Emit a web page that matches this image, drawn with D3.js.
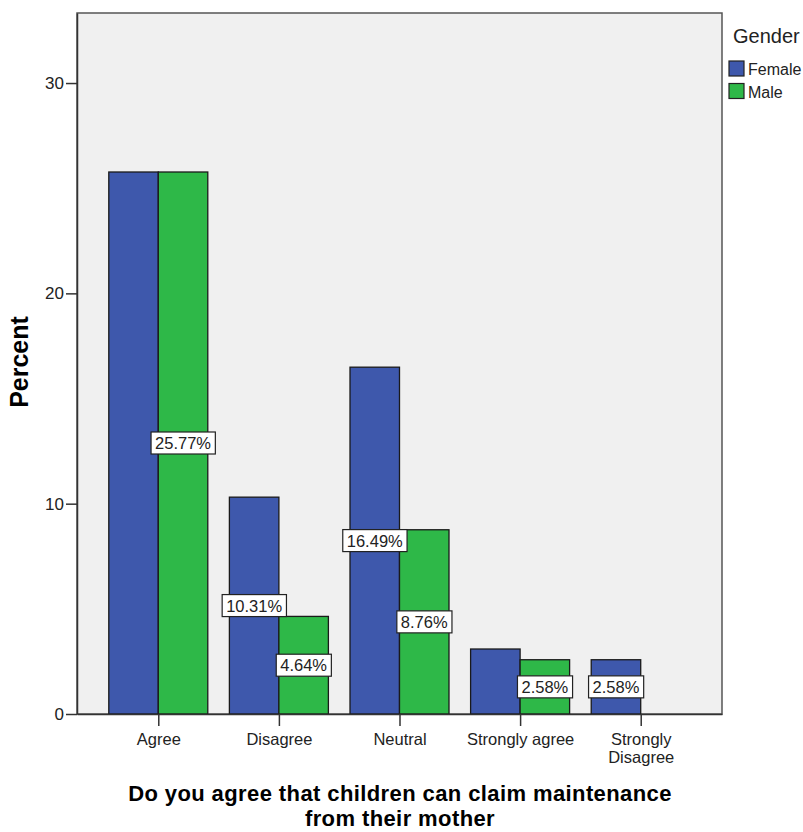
<!DOCTYPE html>
<html><head><meta charset="utf-8">
<script src="https://cdn.jsdelivr.net/npm/d3@7"></script>
<style>body{margin:0;background:#fff;} svg{display:block;font-family:"Liberation Sans",Arial,sans-serif;}</style>
</head><body><svg id="c" width="803" height="832"></svg>
<script>
const categories = ["Agree","Disagree","Neutral","Strongly agree","Strongly Disagree"];
const categoryLines = [["Agree"],["Disagree"],["Neutral"],["Strongly agree"],["Strongly","Disagree"]];
const series = ["Female","Male"];
const femaleValues = [25.77, 10.31, 16.49, 3.09, 2.58];
const maleValues = [25.77, 4.64, 8.76, 2.58, 0];
const femaleLabelShown = [false, true, true, false, true];
const maleLabelShown = [true, true, true, true, false];
const yTicks = [0, 10, 20, 30];
const colors = ["#3E58AC", "#2EB848"];

const svg = d3.select("#c");
const L = 77, T = 13, R = 722, B = 714;
const y = d3.scaleLinear().domain([0, 33.33]).range([B, T]);
const x = d3.scalePoint().domain(categories).range([L, R]).padding(0.674);
const barW = 49.5;
const xs = d3.scaleBand().domain(series).range([-barW, barW]);

svg.append("rect").attr("x", L).attr("y", T).attr("width", R - L).attr("height", B - T)
  .attr("fill", "#F0F0F0").attr("stroke", "#555").attr("stroke-width", 1.5);

const rows = [];
categories.forEach((c, i) => {
  rows.push({c, s: "Female", v: femaleValues[i], show: femaleLabelShown[i], k: 0});
  rows.push({c, s: "Male", v: maleValues[i], show: maleLabelShown[i], k: 1});
});

svg.append("g").selectAll("rect").data(rows.filter(d => d.v > 0)).join("rect")
  .attr("x", d => x(d.c) + xs(d.s))
  .attr("y", d => y(d.v))
  .attr("width", xs.bandwidth())
  .attr("height", d => y(0) - y(d.v))
  .attr("fill", d => colors[d.k])
  .attr("stroke", "#1a1a1a").attr("stroke-width", 1.3);

// Axes
const yAxis = svg.append("g").attr("transform", `translate(${L},0)`)
  .call(d3.axisLeft(y).tickValues(yTicks).tickSize(11).tickSizeOuter(0).tickPadding(2).tickFormat(d3.format("d")));
yAxis.select(".domain").attr("stroke", "#333").attr("stroke-width", 1.5);
yAxis.selectAll(".tick line").attr("stroke", "#333").attr("stroke-width", 1.5);
yAxis.selectAll(".tick text").attr("font-size", 17).attr("fill", "#222")
  .attr("font-family", "Liberation Sans, Arial, sans-serif");

const xAxis = svg.append("g").attr("transform", `translate(0,${B})`)
  .call(d3.axisBottom(x).tickSize(12).tickSizeOuter(0).tickFormat(""));
xAxis.select(".domain").attr("stroke", "#333").attr("stroke-width", 1.5);
xAxis.selectAll(".tick line").attr("stroke", "#333").attr("stroke-width", 1.5);
xAxis.selectAll(".tick").each(function(d, i) {
  const t = d3.select(this).append("text").attr("fill", "#222").attr("font-size", 16.5)
    .attr("text-anchor", "middle").attr("font-family", "Liberation Sans, Arial, sans-serif");
  categoryLines[i].forEach((ln, j) => t.append("tspan").attr("x", 0).attr("y", 31 + j * 18).text(ln));
});

// Value labels
const fmt = v => v.toFixed(2) + "%";
const lg = svg.append("g").selectAll("g").data(rows.filter(d => d.show)).join("g")
  .attr("transform", d => `translate(${x(d.c) + xs(d.s) + xs.bandwidth() / 2},${(y(d.v) + y(0)) / 2})`);
lg.append("text").attr("text-anchor", "middle").attr("dy", "0.36em")
  .attr("font-size", 16.5).attr("fill", "#222").text(d => fmt(d.v));
lg.each(function() {
  const g = d3.select(this);
  const bb = g.select("text").node().getBBox();
  g.insert("rect", "text").attr("x", bb.x - 4).attr("y", -11).attr("width", bb.width + 8).attr("height", 22)
    .attr("fill", "#fff").attr("stroke", "#222").attr("stroke-width", 1.2);
});

// Axis titles
svg.append("text").attr("transform", `translate(28,362) rotate(-90)`)
  .attr("text-anchor", "middle").attr("font-weight", "bold").attr("font-size", 25).attr("fill", "#000").text("Percent");
svg.append("text").attr("x", 400).attr("y", 801).attr("text-anchor", "middle").attr("font-weight", "bold")
  .attr("font-size", 22).attr("letter-spacing", 0.4).attr("fill", "#000")
  .text("Do you agree that children can claim maintenance");
svg.append("text").attr("x", 400).attr("y", 826).attr("text-anchor", "middle").attr("font-weight", "bold")
  .attr("font-size", 22).attr("letter-spacing", 0.4).attr("fill", "#000")
  .text("from their mother");

// Legend
svg.append("text").attr("x", 733).attr("y", 43).attr("font-size", 20).attr("fill", "#222").text("Gender");
const leg = svg.append("g").selectAll("g").data(series).join("g")
  .attr("transform", (d, i) => `translate(729,${61 + i * 22.5})`);
leg.append("rect").attr("width", 15).attr("height", 15).attr("fill", (d, i) => colors[i])
  .attr("stroke", "#222").attr("stroke-width", 1.2);
leg.append("text").attr("x", 19).attr("y", 14).attr("font-size", 16).attr("fill", "#222").text(d => d);
</script></body></html>
